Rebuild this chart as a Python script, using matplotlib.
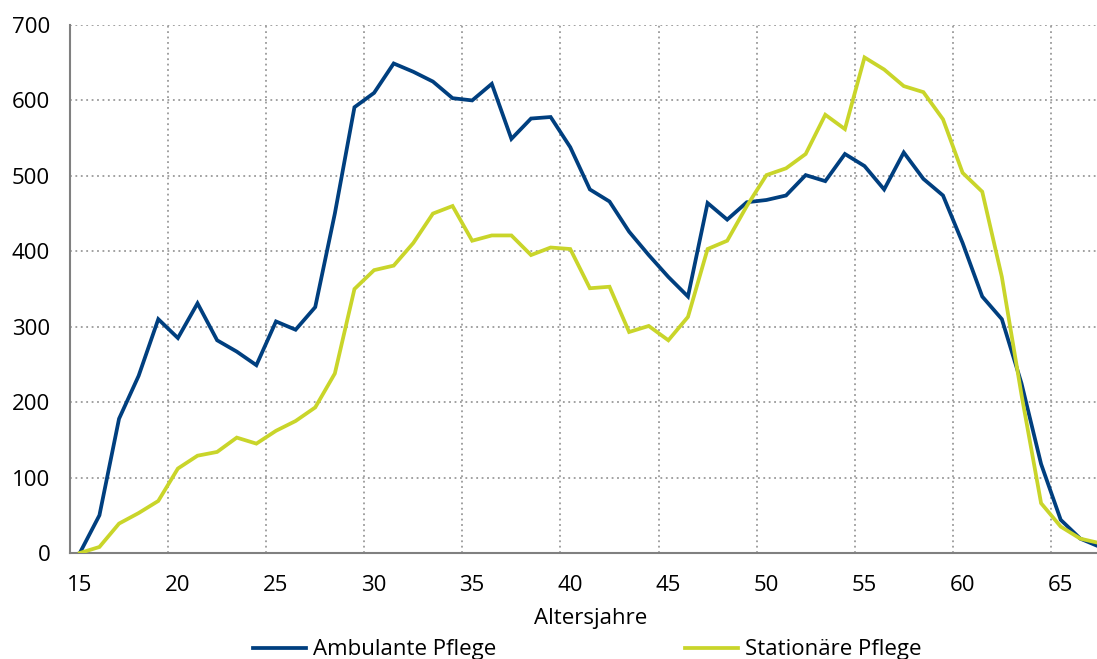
import matplotlib
matplotlib.use("Agg")
import matplotlib.pyplot as plt
from matplotlib.lines import Line2D

plt.rcParams['font.family'] = ['Open Sans', 'DejaVu Sans']

ages = list(range(15, 68))
ambulant = [0, 50, 178, 235, 310, 285, 331, 282, 267, 249,
            307, 296, 326, 450, 591, 610, 649, 638, 625, 603,
            600, 622, 549, 576, 578, 538, 482, 466, 426, 395,
            366, 340, 464, 442, 465, 468, 474, 501, 493, 529,
            513, 482, 531, 496, 474, 411, 340, 310, 225, 118,
            44, 19, 8]
stationaer = [0, 8, 39, 53, 69, 112, 129, 134, 153, 145,
              162, 175, 193, 238, 350, 375, 381, 411, 450, 460,
              414, 421, 421, 395, 405, 403, 351, 353, 293, 301,
              282, 313, 403, 414, 460, 501, 510, 529, 581, 562,
              657, 641, 619, 611, 575, 504, 479, 366, 210, 66,
              35, 19, 13]
xticks = [15, 20, 25, 30, 35, 40, 45, 50, 55, 60, 65]
yticks = [0, 100, 200, 300, 400, 500, 600, 700]
series_names = ["Ambulante Pflege", "Stationäre Pflege"]
xlabel = "Altersjahre"

blue = "#003F7F"
yellow = "#C9D52A"
gridc = "#9A9A9A"
spinec = "#808080"

fig = plt.figure(figsize=(10.97, 6.59), dpi=100)
ax = fig.add_axes([70/1097, 1 - 553/659, 1027/1097, 528/659])

ax.plot(ages, ambulant, color=blue, lw=2.7, solid_joinstyle='miter', zorder=3)
ax.plot(ages, stationaer, color=yellow, lw=2.7, solid_joinstyle='miter', zorder=3)

ax.set_xlim(14.5, 66.85)
ax.set_ylim(0, 700)

ax.set_xticks(xticks)
ax.set_yticks(yticks)
ax.tick_params(axis='both', length=0, labelsize=16)
ax.tick_params(axis='y', pad=14.3)
ax.tick_params(axis='x', pad=15.5)

# gridlines (vertical grid on category boundaries)
for g in [19.5, 24.5, 29.5, 34.5, 39.5, 44.5, 49.5, 54.5, 59.5, 64.5]:
    ax.axvline(g, color=gridc, lw=1.3, ls=(0, (1, 2)), zorder=1)
for g in yticks[1:]:
    ax.axhline(g, color=gridc, lw=1.3, ls=(0, (1, 2)), zorder=1)

for s in ['top', 'right']:
    ax.spines[s].set_visible(False)
for s in ['left', 'bottom']:
    ax.spines[s].set_color(spinec)
    ax.spines[s].set_linewidth(1.5)

ax.set_xlabel(xlabel, fontsize=16)
ax.xaxis.set_label_coords(0.507, -0.104)
ax.xaxis.label.set_verticalalignment('top')

handles = [Line2D([], [], color=blue, lw=2.7), Line2D([], [], color=yellow, lw=2.7)]
fig.legend(handles, series_names, loc='center', bbox_to_anchor=(587 / 1097, 1 - 650/659),
           ncol=2, frameon=False, fontsize=16, handlelength=2.4, handletextpad=0.3,
           columnspacing=8.5, borderpad=0)

fig.savefig("out.png", dpi=100)
